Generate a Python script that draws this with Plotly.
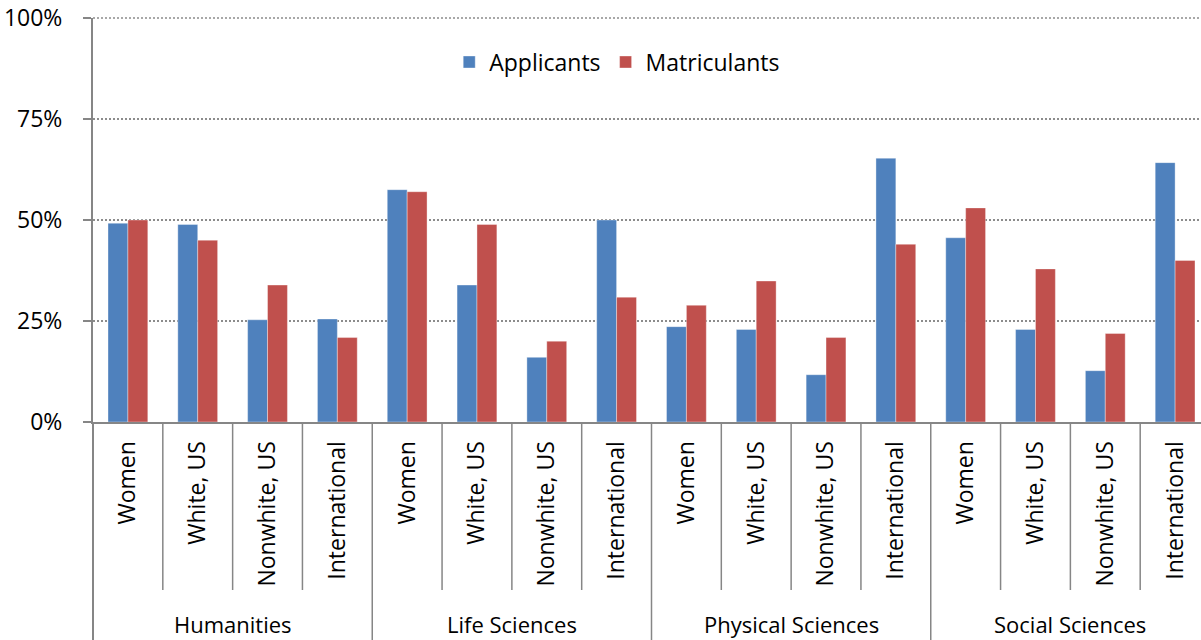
import plotly.graph_objects as go

groups = ["Humanities", "Life Sciences", "Physical Sciences", "Social Sciences"]
subcats = ["Women", "White, US", "Nonwhite, US", "International"]

applicants = [49.2, 48.9, 25.3, 25.5,
              57.5, 33.9, 16.0, 50.0,
              23.6, 22.9, 11.7, 65.3,
              45.6, 22.9, 12.7, 64.2]
matriculants = [50.0, 45.0, 33.9, 20.9,
                57.0, 48.9, 20.0, 30.9,
                28.9, 34.9, 20.9, 44.0,
                53.0, 37.9, 21.9, 40.0]

y_ticks = [0, 25, 50, 75, 100]

labels = [s for g in groups for s in subcats]
xs = list(range(len(labels)))

FONT = "Open Sans"
GRAY = "#868686"
GRID = "#8c8c8c"
TXT = "#000000"
FS = 23

fig = go.Figure()
fig.add_trace(go.Bar(x=xs, y=applicants, name="Applicants",
                     marker=dict(color="#4F81BD", line=dict(color="rgba(255,255,255,0.45)", width=0.8))))
fig.add_trace(go.Bar(x=xs, y=matriculants, name="Matriculants",
                     marker=dict(color="#C0504D", line=dict(color="rgba(255,255,255,0.45)", width=0.8))))

H_PLOT = 404.0
inner_bottom = -(590 - 422) / H_PLOT
outer_bottom = -(640 - 422) / H_PLOT
label_y = -(624 - 422) / H_PLOT

shapes = []
n = len(labels)
per = len(subcats)
for i in range(1, n):
    bottom = outer_bottom if i % per == 0 else inner_bottom
    shapes.append(dict(type="line", xref="x", yref="paper", x0=i - 0.5, x1=i - 0.5,
                       y0=0, y1=bottom, line=dict(color=GRAY, width=1.5)))
shapes.append(dict(type="line", xref="paper", yref="paper", x0=0, x1=0,
                   y0=0, y1=outer_bottom, line=dict(color=GRAY, width=2)))
# top (100%) gridline, which plotly drops because it sits on the plot edge
shapes.append(dict(type="line", xref="paper", yref="paper", x0=0, x1=1, y0=1, y1=1,
                   layer="below", line=dict(color=GRID, width=1.5, dash="2px,2px")))

annotations = []
for gi, g in enumerate(groups):
    annotations.append(dict(text=g, xref="x", yref="paper", x=gi * per + (per - 1) / 2,
                            y=label_y, showarrow=False, xanchor="center", yanchor="middle",
                            font=dict(family=FONT, size=FS - 1, color=TXT)))

fig.update_layout(
    width=1201, height=640,
    margin=dict(l=93, r=0, t=18, b=218, autoexpand=False),
    paper_bgcolor="white", plot_bgcolor="white",
    barmode="group", bargap=0.43, bargroupgap=0,
    font=dict(family=FONT, size=FS, color=TXT),
    showlegend=True,
    legend=dict(orientation="h", x=0.3215, y=0.891, xanchor="left", yanchor="middle",
                font=dict(family=FONT, size=FS, color=TXT),
                bgcolor="rgba(0,0,0,0)"),
    xaxis=dict(range=[-0.5, n - 0.5 - 9 / 69.8], tickmode="array", tickvals=xs, ticktext=labels,
               tickangle=-90, ticks="", showgrid=False, zeroline=False, automargin=False,
               showline=True, linecolor=GRAY, linewidth=2, ticklabelstandoff=8,
               tickfont=dict(family=FONT, size=FS, color=TXT)),
    yaxis=dict(range=[0, 100], tickmode="array", tickvals=y_ticks,
               ticktext=[f"{v}%" for v in y_ticks], automargin=False,
               ticklabeloverflow="allow",
               ticks="outside", ticklen=8, tickcolor=GRAY, tickwidth=1.5,
               showline=True, linecolor=GRAY, linewidth=2,
               showgrid=True, gridcolor=GRID, gridwidth=1.5, griddash="2px,2px",
               zeroline=False, ticklabelstandoff=16,
               tickfont=dict(family=FONT, size=FS, color=TXT)),
    shapes=shapes, annotations=annotations,
)

fig.write_html("out.html", config={"displayModeBar": False},
               post_script="document.body.style.margin='0px';")
